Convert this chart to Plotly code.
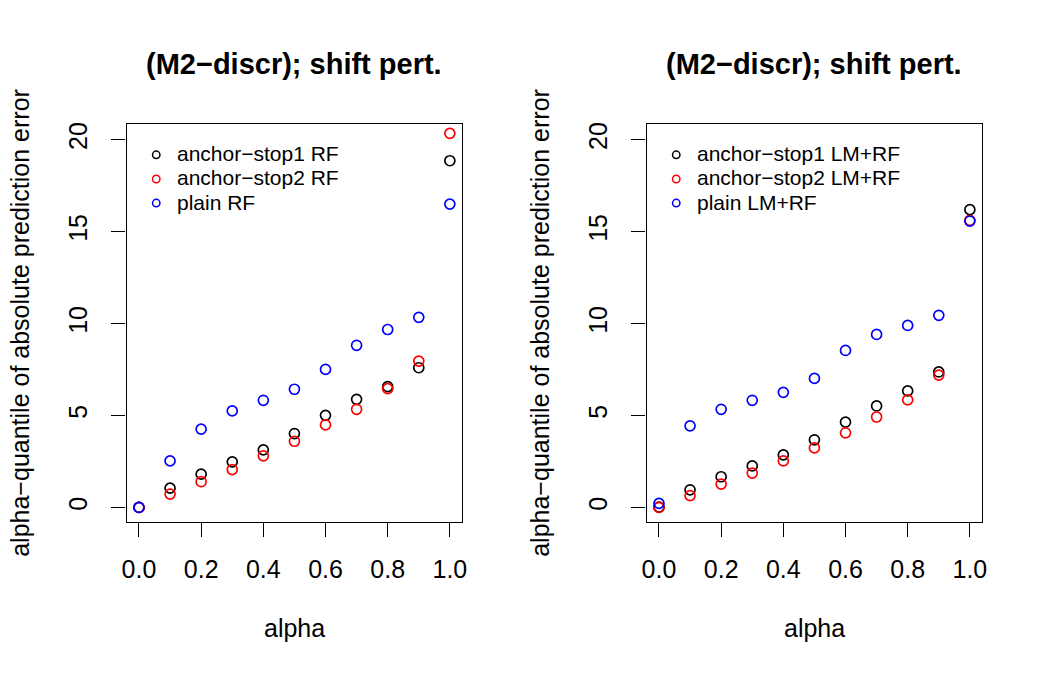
import plotly.graph_objects as go

# ---------------- data ----------------
alpha = [0.0, 0.1, 0.2, 0.3, 0.4, 0.5, 0.6, 0.7, 0.8, 0.9, 1.0]

rf_stop1 = [0.0, 1.05, 1.81, 2.48, 3.13, 4.02, 5.01, 5.88, 6.57, 7.60, 18.86]
rf_stop2 = [0.0, 0.73, 1.40, 2.06, 2.81, 3.60, 4.49, 5.34, 6.46, 7.96, 20.35]
rf_plain = [0.0, 2.53, 4.26, 5.25, 5.83, 6.43, 7.51, 8.82, 9.68, 10.34, 16.50]

lmrf_stop1 = [0.02, 0.96, 1.67, 2.26, 2.86, 3.68, 4.64, 5.52, 6.34, 7.37, 16.20]
lmrf_stop2 = [0.0, 0.64, 1.27, 1.87, 2.53, 3.24, 4.06, 4.92, 5.85, 7.20, 15.62]
lmrf_plain = [0.22, 4.44, 5.34, 5.83, 6.26, 7.02, 8.54, 9.41, 9.90, 10.45, 15.58]

left_names = ["anchor\u2212stop1 RF", "anchor\u2212stop2 RF", "plain RF"]
right_names = ["anchor\u2212stop1 LM+RF", "anchor\u2212stop2 LM+RF", "plain LM+RF"]
series_colors = ["black", "red", "blue"]

x_ticks = [0.0, 0.2, 0.4, 0.6, 0.8, 1.0]
x_tick_labels = ["0.0", "0.2", "0.4", "0.6", "0.8", "1.0"]
y_ticks = [0, 5, 10, 15, 20]
y_tick_labels = ["0", "5", "10", "15", "20"]

title_text = "(M2\u2212discr); shift pert."
x_title = "alpha"
y_title = "alpha\u2212quantile of absolute prediction error"

# ---------------- layout constants ----------------
W, H = 1050, 675
FONT = "Liberation Sans"
left_px = (122.7, 461.7)
right_px = (647.7, 986.7)
top_px, bottom_px = 122.7, 521.7

def px_x(v):
    return v / W

def px_y(v):
    return (H - v) / H

fig = go.Figure()

panels = [
    ("x", "y", [rf_stop1, rf_stop2, rf_plain], left_names, left_px),
    ("x2", "y2", [lmrf_stop1, lmrf_stop2, lmrf_plain], right_names, right_px),
]

for xa, ya, series, names, _ in panels:
    for vals, name, col in zip(series, names, series_colors):
        fig.add_trace(go.Scatter(
            x=alpha, y=vals, mode="markers", name=name, xaxis=xa, yaxis=ya,
            showlegend=False,
            marker=dict(symbol="circle-open", size=10, color=col,
                        line=dict(color=col, width=1.7)),
        ))

axis_common = dict(
    showline=True, mirror=True, linecolor="black", linewidth=1.3,
    ticks="outside", ticklen=14, tickwidth=1.3, tickcolor="black",
    showgrid=False, zeroline=False,
    tickfont=dict(family=FONT, size=25, color="black"),
)

xdom_l = [px_x(left_px[0]), px_x(left_px[1])]
xdom_r = [px_x(right_px[0]), px_x(right_px[1])]
ydom = [px_y(bottom_px), px_y(top_px)]

fig.update_layout(
    width=W, height=H,
    margin=dict(l=0, r=0, t=0, b=0),
    paper_bgcolor="white", plot_bgcolor="white",
    showlegend=False,
    xaxis=dict(domain=xdom_l, range=[-0.04, 1.04], tickvals=x_ticks,
               ticktext=x_tick_labels, anchor="y", ticklabelstandoff=11, **axis_common),
    yaxis=dict(domain=ydom, range=[-0.8, 20.84], tickvals=y_ticks,
               ticktext=y_tick_labels, tickangle=-90, anchor="x",
               ticklabelstandoff=14, **axis_common),
    xaxis2=dict(domain=xdom_r, range=[-0.04, 1.04], tickvals=x_ticks,
                ticktext=x_tick_labels, anchor="y2", ticklabelstandoff=11, **axis_common),
    yaxis2=dict(domain=ydom, range=[-0.8, 20.84], tickvals=y_ticks,
                ticktext=y_tick_labels, tickangle=-90, anchor="x2",
                ticklabelstandoff=14, **axis_common),
)

annotations = []
shapes = []
for xa, ya, series, names, (x0, x1) in panels:
    cx = (x0 + x1) / 2
    # title
    annotations.append(dict(text="<b>" + title_text + "</b>", x=px_x(cx), y=px_y(62.5),
                            xref="paper", yref="paper", xanchor="center", yanchor="middle",
                            showarrow=False, font=dict(family=FONT, size=29, color="black")))
    # x title
    annotations.append(dict(text=x_title, x=px_x(cx), y=px_y(628),
                            xref="paper", yref="paper", xanchor="center", yanchor="middle",
                            showarrow=False, font=dict(family=FONT, size=25, color="black")))
    # y title
    annotations.append(dict(text=y_title, x=px_x(x0 - 107), y=px_y((top_px + bottom_px) / 2),
                            xref="paper", yref="paper", xanchor="center", yanchor="middle",
                            textangle=-90, showarrow=False,
                            font=dict(family=FONT, size=25, color="black")))
    # legend
    for i, (name, col) in enumerate(zip(names, series_colors)):
        cy = 153.3 + 24.2 * i
        ccx = x0 + 30.0
        r = 3.75
        shapes.append(dict(type="circle", xref="paper", yref="paper",
                           x0=px_x(ccx - r), x1=px_x(ccx + r),
                           y0=px_y(cy + r), y1=px_y(cy - r),
                           line=dict(color=col, width=1.5)))
        annotations.append(dict(text=name, x=px_x(x0 + 49.0), y=px_y(cy - 1),
                                xref="paper", yref="paper", xanchor="left", yanchor="middle",
                                showarrow=False,
                                font=dict(family=FONT, size=21, color="black")))

fig.update_layout(annotations=annotations, shapes=shapes)

fig.write_html("out.html")
